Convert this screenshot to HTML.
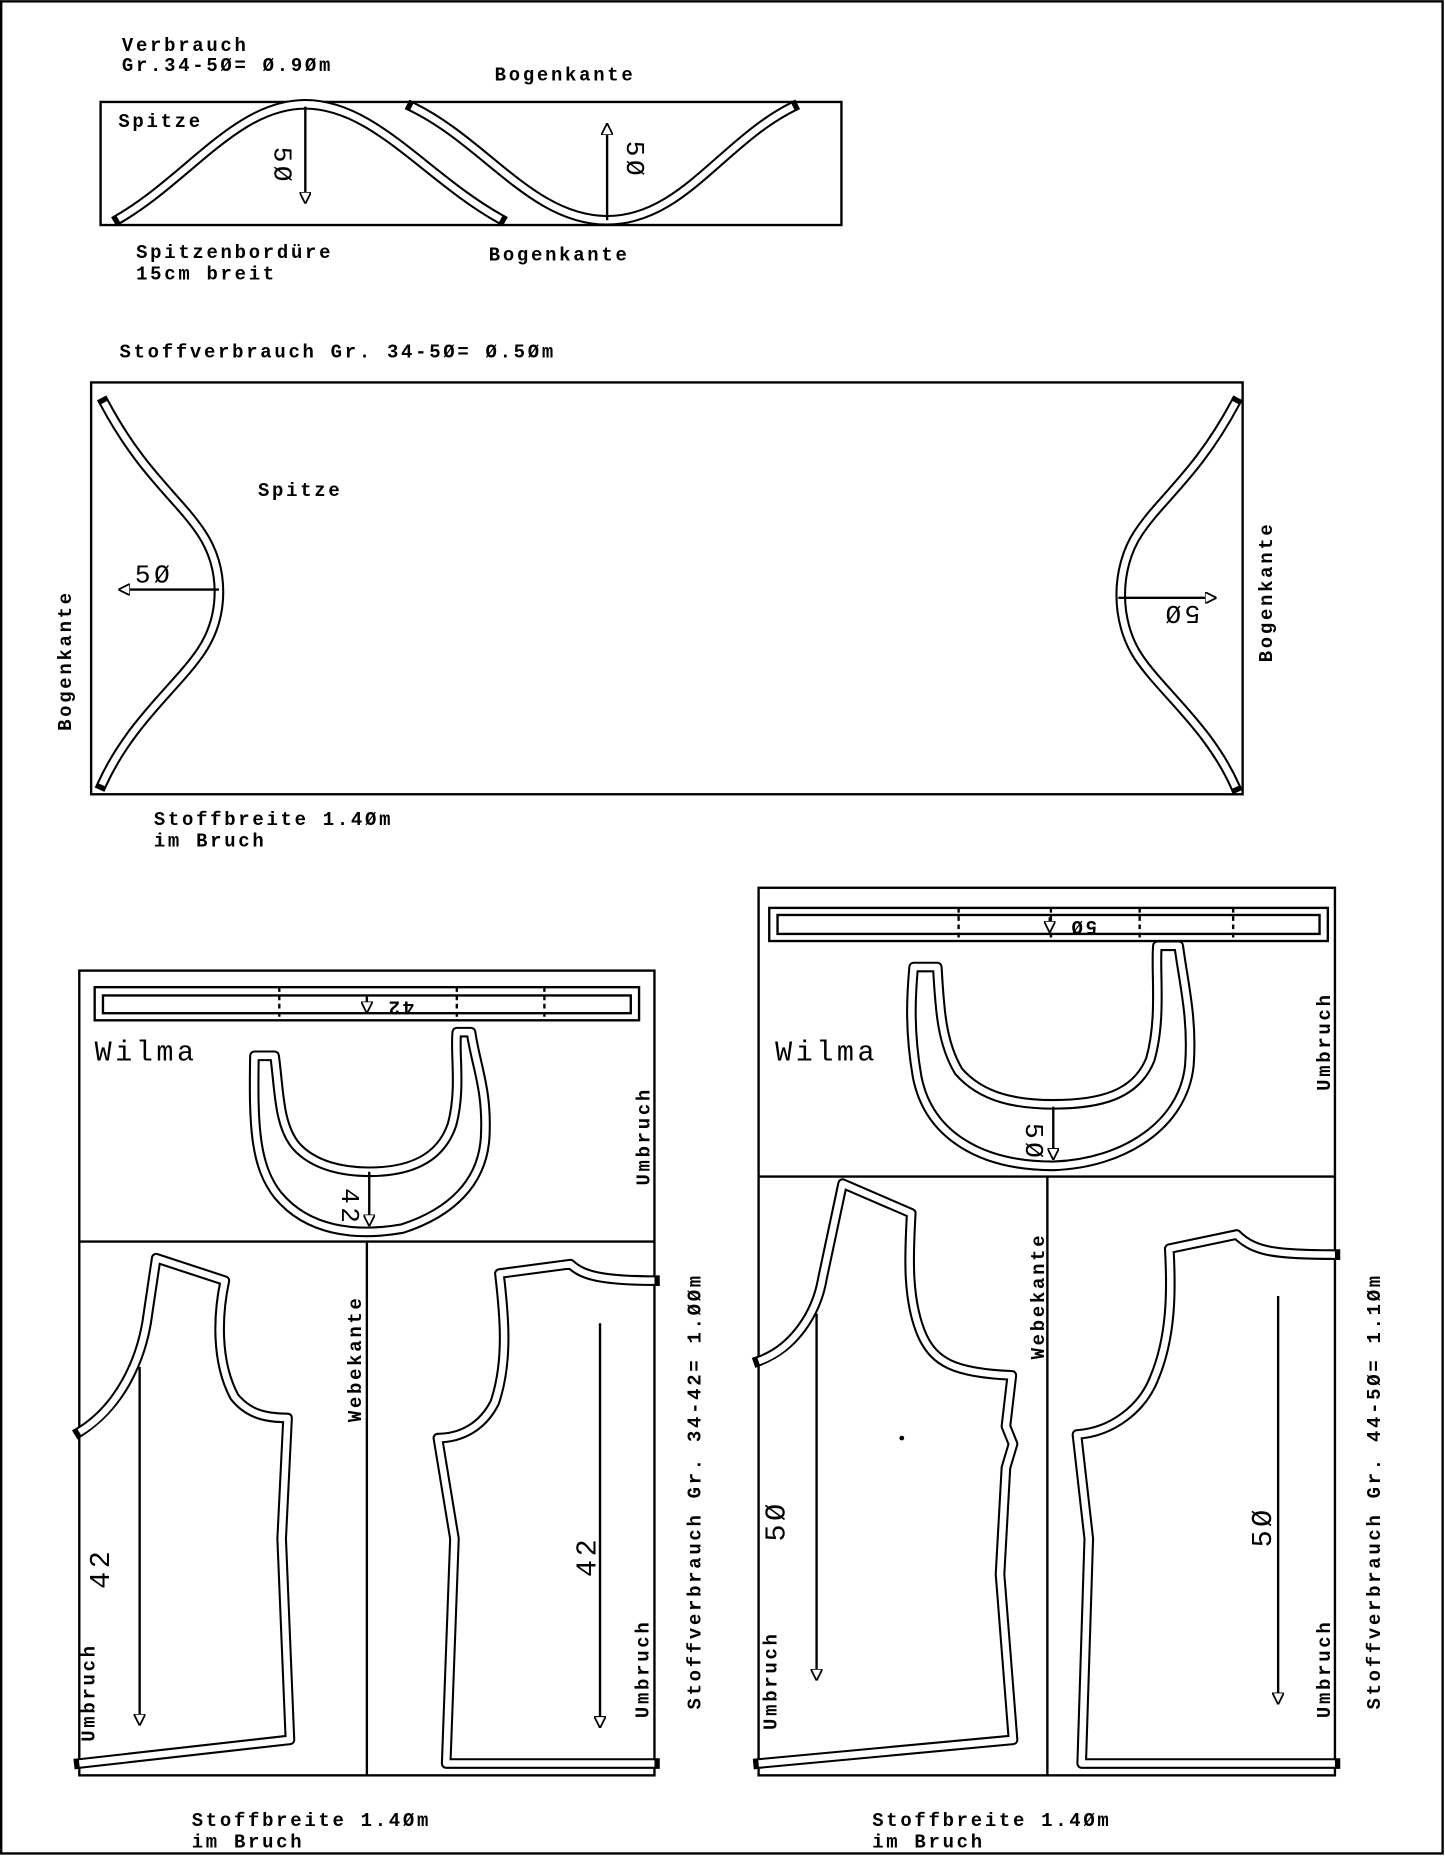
<!DOCTYPE html>
<html><head><meta charset="utf-8">
<style>
html,body{margin:0;padding:0;background:#fff;}
svg{display:block;}
text{font-family:"Liberation Mono",monospace;font-weight:bold;font-size:16px;letter-spacing:2.3px;fill:#000;}
.big{font-size:24px;font-weight:normal;letter-spacing:3px;}
.dbl1{fill:none;stroke:#000;stroke-width:9;stroke-linejoin:round;stroke-linecap:square;}
.dbl2{fill:none;stroke:#fff;stroke-width:5.5;stroke-linejoin:round;stroke-linecap:butt;}
.ln{fill:none;stroke:#000;stroke-width:2;}
.dash{stroke:#000;stroke-width:2;stroke-dasharray:4,3;}
</style></head><body>
<svg width="1445" height="1856" viewBox="0 0 1221 1568" xmlns="http://www.w3.org/2000/svg">
<defs>
<marker id="ah" viewBox="0 0 10 10" refX="10" refY="5" markerWidth="10" markerHeight="10" markerUnits="userSpaceOnUse" orient="auto">
<path d="M0,0 L10,5 L0,10 Z" fill="#fff" stroke="#000" stroke-width="1.5"/></marker>
</defs>
<rect x="1" y="1" width="1218" height="1565" class="ln"/>

<!-- top -->
<text x="103" y="43">Verbrauch</text>
<text x="103" y="60">Gr.34-5Ø= Ø.9Øm</text>
<text x="418" y="68">Bogenkante</text>
<rect x="85" y="86" width="626" height="104" class="ln"/>
<text x="100" y="107">Spitze</text>
<g>
<path d="M100,185 C160,150 200,88 258,88 C316,88 360,150 423,185" class="dbl1"/>
<path d="M100,185 C160,150 200,88 258,88 C316,88 360,150 423,185" class="dbl2"/>
<path d="M348,90 C410,120 450,186 513,186 C576,186 610,120 670,90" class="dbl1"/>
<path d="M348,90 C410,120 450,186 513,186 C576,186 610,120 670,90" class="dbl2"/>
</g>
<line x1="258" y1="90" x2="258" y2="172" class="ln" marker-end="url(#ah)"/>
<text transform="translate(232,140) rotate(90)" class="big" text-anchor="middle" style="font-size:22px">5Ø</text>
<line x1="513" y1="186" x2="513" y2="104" class="ln" marker-end="url(#ah)"/>
<text transform="translate(530,135) rotate(90)" class="big" text-anchor="middle" style="font-size:22px">5Ø</text>
<text x="413" y="220">Bogenkante</text>
<text x="115" y="218">Spitzenbordüre</text>
<text x="115" y="236">15cm breit</text>

<!-- second -->
<text x="101" y="302">Stoffverbrauch Gr.  34-5Ø= Ø.5Øm</text>
<rect x="77" y="323" width="973" height="348" class="ln"/>
<path d="M88,340 C120,400 150,420 170,450 C190,480 190,520 170,550 C150,580 110,610 86,663" class="dbl1"/>
<path d="M88,340 C120,400 150,420 170,450 C190,480 190,520 170,550 C150,580 110,610 86,663" class="dbl2"/>
<path d="M1044,340 C1012,400 982,420 962,450 C942,480 942,525 962,555 C982,585 1022,615 1044,665" class="dbl1"/>
<path d="M1044,340 C1012,400 982,420 962,450 C942,480 942,525 962,555 C982,585 1022,615 1044,665" class="dbl2"/>
<text x="218" y="419">Spitze</text>
<line x1="185" y1="498" x2="100" y2="498" class="ln" marker-end="url(#ah)"/>
<text x="114" y="492" class="big" style="font-size:22px">5Ø</text>
<line x1="945" y1="505" x2="1028" y2="505" class="ln" marker-end="url(#ah)"/>
<text transform="translate(998,512) rotate(180)" class="big" text-anchor="middle" style="font-size:22px">5Ø</text>
<text transform="translate(60,558) rotate(-90)" text-anchor="middle">Bogenkante</text>
<text transform="translate(1075,500) rotate(-90)" text-anchor="middle">Bogenkante</text>
<text x="130" y="697">Stoffbreite 1.4Øm</text>
<text x="130" y="715">im Bruch</text>

<!-- bottom left panel -->
<rect x="67" y="820" width="486" height="680" class="ln"/>
<line x1="67" y1="1049" x2="553" y2="1049" class="ln"/>
<line x1="310" y1="1049" x2="310" y2="1500" class="ln"/>
<rect x="80" y="834" width="460" height="28" class="ln"/>
<rect x="87" y="841" width="446" height="15" class="ln"/>
<line x1="236" y1="834" x2="236" y2="862" class="dash"/>
<line x1="386" y1="834" x2="386" y2="862" class="dash"/>
<line x1="460" y1="834" x2="460" y2="862" class="dash"/>
<line x1="310" y1="842" x2="310" y2="856" class="ln" marker-end="url(#ah)"/>
<text transform="translate(338,846) rotate(180)" text-anchor="middle">42</text>
<text x="80" y="896" class="big">Wilma</text>
<path d="M215,892 L232,892 C236,920 235,950 250,968 C265,985 290,990 312,990 C345,990 372,980 382,950 C390,920 384,890 386,872 L398,872 C402,900 412,920 410,960 C408,1000 380,1025 340,1038 C300,1045 260,1040 235,1010 C215,985 214,950 215,892 Z" class="dbl1"/>
<path d="M215,892 L232,892 C236,920 235,950 250,968 C265,985 290,990 312,990 C345,990 372,980 382,950 C390,920 384,890 386,872 L398,872 C402,900 412,920 410,960 C408,1000 380,1025 340,1038 C300,1045 260,1040 235,1010 C215,985 214,950 215,892 Z" class="dbl2"/>
<line x1="312" y1="990" x2="312" y2="1036" class="ln" marker-end="url(#ah)"/>
<text transform="translate(289,1020) rotate(90)" class="big" text-anchor="middle" style="font-size:22px">42</text>
<text transform="translate(549,960) rotate(-90)" text-anchor="middle">Umbruch</text>
<path d="M67,1210 C100,1190 120,1150 125,1110 L132,1063 L190,1082 C184,1110 182,1150 198,1180 C210,1195 225,1198 243,1198 L238,1300 L245,1470 L67,1490" class="dbl1"/>
<path d="M67,1210 C100,1190 120,1150 125,1110 L132,1063 L190,1082 C184,1110 182,1150 198,1180 C210,1195 225,1198 243,1198 L238,1300 L245,1470 L67,1490" class="dbl2"/>
<line x1="118" y1="1155" x2="118" y2="1458" class="ln" marker-end="url(#ah)"/>
<text transform="translate(92,1325) rotate(-90)" class="big" text-anchor="middle">42</text>
<text transform="translate(80,1430) rotate(-90)" text-anchor="middle">Umbruch</text>
<text transform="translate(305,1148) rotate(-90)" text-anchor="middle">Webekante</text>
<path d="M553,1082 C500,1082 490,1075 482,1068 L422,1076 C426,1110 430,1150 418,1185 C408,1205 390,1215 370,1215 L384,1300 L377,1490 L553,1490" class="dbl1"/>
<path d="M553,1082 C500,1082 490,1075 482,1068 L422,1076 C426,1110 430,1150 418,1185 C408,1205 390,1215 370,1215 L384,1300 L377,1490 L553,1490" class="dbl2"/>
<line x1="507" y1="1118" x2="507" y2="1460" class="ln" marker-end="url(#ah)"/>
<text transform="translate(503,1315) rotate(-90)" class="big" text-anchor="middle">42</text>
<text transform="translate(548,1410) rotate(-90)" text-anchor="middle">Umbruch</text>
<text transform="translate(592,1260) rotate(-90)" text-anchor="middle">Stoffverbrauch Gr. 34-42= 1.ØØm</text>
<text x="162" y="1543">Stoffbreite 1.4Øm</text>
<text x="162" y="1561">im Bruch</text>

<!-- bottom right panel -->
<rect x="641" y="750" width="487" height="750" class="ln"/>
<line x1="641" y1="994" x2="1128" y2="994" class="ln"/>
<line x1="885" y1="994" x2="885" y2="1500" class="ln"/>
<rect x="650" y="767" width="472" height="28" class="ln"/>
<rect x="657" y="773" width="458" height="16" class="ln"/>
<line x1="810" y1="767" x2="810" y2="795" class="dash"/>
<line x1="888" y1="767" x2="888" y2="795" class="dash"/>
<line x1="963" y1="767" x2="963" y2="795" class="dash"/>
<line x1="1042" y1="767" x2="1042" y2="795" class="dash"/>
<line x1="887" y1="775" x2="887" y2="788" class="ln" marker-end="url(#ah)"/>
<text transform="translate(915,778) rotate(180)" text-anchor="middle">5Ø</text>
<text x="655" y="896" class="big">Wilma</text>
<path d="M772,817 L792,817 C794,850 795,880 810,905 C830,928 860,933 890,933 C930,933 960,925 972,895 C982,860 976,820 978,799 L996,799 C1000,830 1008,860 1005,900 C1000,950 950,983 890,985 C830,985 785,960 775,910 C768,870 770,840 772,817 Z" class="dbl1"/>
<path d="M772,817 L792,817 C794,850 795,880 810,905 C830,928 860,933 890,933 C930,933 960,925 972,895 C982,860 976,820 978,799 L996,799 C1000,830 1008,860 1005,900 C1000,950 950,983 890,985 C830,985 785,960 775,910 C768,870 770,840 772,817 Z" class="dbl2"/>
<line x1="890" y1="935" x2="890" y2="980" class="ln" marker-end="url(#ah)"/>
<text transform="translate(867,965) rotate(90)" class="big" text-anchor="middle" style="font-size:22px">5Ø</text>
<text transform="translate(1124,880) rotate(-90)" text-anchor="middle">Umbruch</text>
<path d="M641,1150 C670,1140 690,1110 695,1080 L712,1000 L770,1025 C768,1060 766,1100 780,1130 C790,1150 805,1160 855,1162 L850,1205 L856,1220 L850,1240 L845,1330 L856,1470 L641,1490" class="dbl1"/>
<path d="M641,1150 C670,1140 690,1110 695,1080 L712,1000 L770,1025 C768,1060 766,1100 780,1130 C790,1150 805,1160 855,1162 L850,1205 L856,1220 L850,1240 L845,1330 L856,1470 L641,1490" class="dbl2"/>
<circle cx="762" cy="1215" r="2" fill="#000"/>
<line x1="690" y1="1110" x2="690" y2="1420" class="ln" marker-end="url(#ah)"/>
<text transform="translate(663,1285) rotate(-90)" class="big" text-anchor="middle">5Ø</text>
<text transform="translate(656,1420) rotate(-90)" text-anchor="middle">Umbruch</text>
<text transform="translate(882,1095) rotate(-90)" text-anchor="middle">Webekante</text>
<path d="M1128,1060 C1080,1060 1060,1058 1045,1043 L988,1055 C990,1090 990,1130 975,1165 C965,1190 940,1210 910,1212 L920,1300 L914,1490 L1128,1490" class="dbl1"/>
<path d="M1128,1060 C1080,1060 1060,1058 1045,1043 L988,1055 C990,1090 990,1130 975,1165 C965,1190 940,1210 910,1212 L920,1300 L914,1490 L1128,1490" class="dbl2"/>
<line x1="1080" y1="1095" x2="1080" y2="1440" class="ln" marker-end="url(#ah)"/>
<text transform="translate(1074,1290) rotate(-90)" class="big" text-anchor="middle">5Ø</text>
<text transform="translate(1124,1410) rotate(-90)" text-anchor="middle">Umbruch</text>
<text transform="translate(1166,1260) rotate(-90)" text-anchor="middle">Stoffverbrauch Gr. 44-5Ø= 1.1Øm</text>
<text x="737" y="1543">Stoffbreite 1.4Øm</text>
<text x="737" y="1561">im Bruch</text>
</svg>
</body></html>
